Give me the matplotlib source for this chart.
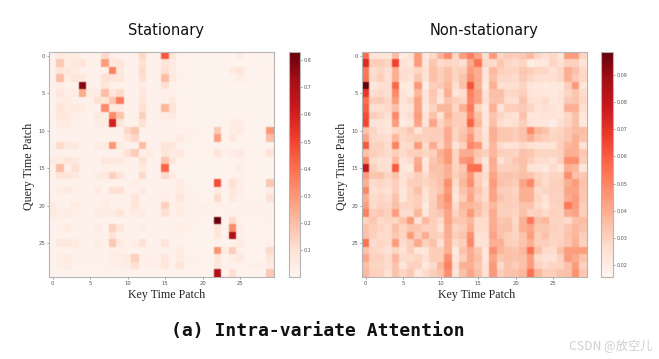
import matplotlib
matplotlib.use("Agg")
import matplotlib.pyplot as plt
import numpy as np

W, H = 659, 359

titles = ["Stationary", "Non-stationary"]
x_label = "Key Time Patch"
y_label = "Query Time Patch"
caption = "(a) Intra-variate Attention"
watermark = "CSDN @放空儿"
heat_ticks = [0, 5, 10, 15, 20, 25]
stationary_ticks = [0.1, 0.2, 0.3, 0.4, 0.5, 0.6, 0.7, 0.8]
nonstationary_ticks = [0.02, 0.03, 0.04, 0.05, 0.06, 0.07, 0.08, 0.09]

# values in hundredths
stationary_pct = [
[2,6,5,5,2,2,2,12,4,2,2,2,13,2,2,45,8,1,1,1,1,1,1,1,1,4,1,1,1,1],
[2,17,4,6,8,2,3,28,6,8,2,2,10,2,2,8,5,1,1,1,1,1,1,1,1,1,1,1,1,1],
[2,8,7,5,2,2,2,2,35,6,2,2,12,2,2,10,5,2,2,1,1,1,1,1,5,8,1,1,1,2],
[2,20,4,8,6,2,2,10,8,7,2,2,10,2,2,20,6,2,1,1,1,1,1,1,1,4,1,1,1,1],
[2,4,2,2,78,3,2,8,3,2,2,2,4,2,2,10,2,1,1,1,1,1,1,1,1,1,1,1,1,1],
[2,7,4,5,25,5,5,20,7,12,2,2,7,2,2,3,2,1,1,1,1,1,1,1,1,1,1,1,1,1],
[2,5,5,2,2,2,10,8,18,37,2,2,8,2,2,3,6,1,1,1,1,1,1,1,1,1,1,1,1,1],
[2,8,5,6,5,2,2,33,6,6,2,2,10,2,2,22,8,1,1,1,1,1,1,1,1,1,1,1,1,1],
[2,7,6,4,2,2,6,4,33,18,2,2,15,2,2,4,6,1,1,1,1,1,1,1,1,1,1,1,1,1],
[2,5,5,2,2,2,4,5,60,8,2,2,10,2,2,2,2,1,1,1,1,1,1,1,4,4,1,1,1,1],
[1,2,2,2,2,2,2,2,2,2,13,18,2,2,2,2,2,2,3,2,1,1,17,1,4,5,1,1,1,30],
[1,2,2,2,2,2,2,2,2,2,8,13,2,2,2,2,2,5,3,2,1,1,28,1,7,2,1,1,1,20],
[2,12,6,6,2,2,5,5,30,5,2,2,20,2,2,8,7,2,1,1,1,1,1,1,1,1,1,1,1,1],
[2,2,2,2,2,2,2,2,2,2,10,16,3,5,2,8,5,6,2,2,2,2,8,2,4,6,2,2,2,8],
[5,5,8,6,3,2,2,7,6,6,3,2,10,2,2,18,8,2,1,1,1,1,1,1,2,2,1,1,1,1],
[2,20,3,10,3,2,2,3,3,2,2,2,6,2,2,42,2,1,1,1,1,1,1,1,2,4,1,1,1,1],
[2,8,8,6,2,2,5,6,15,8,2,2,12,2,2,12,5,1,1,1,1,1,1,1,2,2,1,1,1,1],
[2,2,2,2,2,2,2,2,2,2,2,4,2,2,2,2,2,5,2,1,1,1,48,2,10,4,1,1,1,17],
[2,4,6,3,2,2,5,2,10,10,2,2,6,2,2,3,2,5,2,1,1,1,5,2,7,4,1,1,1,4],
[2,2,2,2,2,2,2,3,2,2,3,8,2,2,2,4,2,7,3,3,1,1,12,1,6,3,1,1,1,10],
[6,2,2,5,2,2,2,5,2,2,3,8,2,2,2,15,3,4,2,2,3,2,3,2,2,2,2,3,2,2],
[6,4,5,4,2,2,4,5,4,8,3,5,5,2,2,10,3,5,2,2,2,3,1,2,2,2,2,3,3,2],
[2,2,2,2,2,2,2,2,2,2,2,2,2,2,2,2,2,2,2,2,1,1,83,1,12,2,1,1,1,2],
[2,2,5,2,2,2,5,2,15,7,2,2,4,2,2,2,2,4,3,1,1,1,8,1,33,4,1,1,1,2],
[2,2,2,2,2,2,2,2,8,2,2,2,2,2,2,2,2,2,2,1,1,1,8,1,70,3,1,1,1,2],
[2,6,6,5,2,2,4,3,17,6,2,4,10,2,2,8,2,2,1,1,1,1,2,1,2,5,1,1,1,2],
[2,2,2,2,2,2,2,2,3,3,2,2,2,2,2,2,2,5,1,1,1,1,30,5,16,3,2,2,2,12],
[2,4,5,3,3,2,2,2,4,4,6,15,3,3,2,7,2,5,2,3,1,1,7,2,4,6,1,1,1,8],
[2,3,5,2,2,2,2,2,3,4,4,10,3,4,3,7,2,8,2,2,1,1,7,2,2,2,2,3,3,5],
[1,1,1,1,1,1,1,1,1,1,1,1,1,1,1,1,1,1,1,1,1,1,70,1,10,1,1,1,1,17],
]

# values in thousandths
nonstationary_milli = [
[56,23,23,23,36,20,24,44,22,28,38,48,28,44,52,42,26,45,28,32,31,33,37,28,26,28,23,44,44,29],
[72,31,31,29,66,25,22,44,23,33,27,29,28,26,41,54,27,27,33,28,27,29,20,22,22,29,26,30,30,24],
[53,26,29,26,39,26,26,29,25,35,31,35,29,31,44,40,24,37,31,29,29,33,31,29,28,25,28,39,35,28],
[54,27,31,26,39,26,24,33,25,35,31,35,29,34,47,40,23,35,28,28,27,32,28,26,26,26,28,39,32,28],
[98,22,26,26,57,21,21,45,19,31,32,37,26,35,62,39,21,39,26,26,26,29,23,22,21,22,22,31,45,23],
[69,26,28,26,49,24,21,37,24,33,25,39,23,26,51,42,24,35,35,28,29,31,24,23,22,22,24,29,33,27],
[56,31,32,28,44,24,28,42,24,32,23,34,31,29,49,42,26,34,34,26,26,34,26,25,27,22,24,32,34,28],
[59,26,26,28,35,22,24,42,21,29,37,37,28,39,53,29,22,39,24,31,31,32,29,24,26,24,23,39,39,26],
[63,31,29,25,49,23,27,44,24,34,25,39,31,31,49,35,23,34,29,26,24,34,23,23,24,24,24,28,35,23],
[65,24,24,23,44,20,23,42,24,42,29,35,31,31,58,37,22,35,26,24,26,31,24,23,23,19,26,29,35,22],
[34,29,25,23,28,29,33,25,31,31,31,40,29,33,40,31,23,39,33,33,31,34,49,37,34,28,29,33,36,36],
[42,28,27,26,37,28,30,31,30,31,30,40,29,35,45,31,25,39,33,33,31,34,39,33,31,29,30,33,39,34],
[61,29,30,27,51,27,27,44,27,40,29,39,25,30,49,45,24,37,27,24,25,28,25,24,24,24,31,37,39,25],
[35,31,29,27,31,27,31,31,29,31,39,45,29,40,40,33,30,37,31,30,29,34,33,29,29,29,30,39,39,33],
[48,27,25,25,37,24,27,40,22,33,37,45,29,45,47,31,23,40,25,29,33,35,31,27,27,25,30,47,47,31],
[80,30,26,26,60,23,21,42,23,35,34,39,29,33,55,56,25,39,30,30,31,34,25,24,22,27,23,39,37,23],
[44,33,34,29,34,25,27,31,27,33,34,39,30,35,45,31,27,42,33,34,33,35,34,29,27,29,29,47,34,33],
[39,27,29,27,31,25,31,31,29,31,35,47,27,37,47,31,25,44,34,33,31,42,49,31,27,30,31,39,44,34],
[49,25,27,25,31,23,29,35,25,30,33,44,25,34,40,34,27,42,31,31,29,39,39,27,29,30,30,42,42,33],
[39,27,29,27,34,23,29,31,25,30,39,47,23,31,42,31,27,42,34,31,30,39,39,29,25,30,30,40,44,33],
[44,27,30,29,35,29,29,31,21,31,39,45,27,37,37,35,30,37,31,31,30,34,34,27,23,29,30,53,44,31],
[51,31,33,30,44,27,27,37,23,31,33,42,29,35,45,34,29,40,30,30,29,35,29,30,27,30,29,40,42,31],
[29,33,27,29,29,34,45,25,37,31,27,42,33,33,37,27,27,39,33,34,27,39,53,35,37,29,29,27,35,36],
[34,31,29,27,35,29,34,33,30,31,25,40,29,31,39,27,27,40,34,35,29,39,42,33,33,30,29,33,37,34],
[35,30,27,27,33,29,44,31,40,31,30,40,31,34,47,25,25,42,34,31,29,34,44,31,35,29,29,34,37,31],
[55,27,29,27,44,27,31,40,30,34,25,39,27,31,49,25,25,39,39,31,30,34,39,31,31,29,30,33,39,30],
[34,29,27,25,29,25,31,23,23,31,31,39,21,34,40,33,23,47,37,35,33,37,55,35,27,27,35,44,44,44],
[42,30,30,27,37,27,27,29,25,31,31,47,23,31,40,35,23,42,33,35,34,35,44,27,25,25,30,44,40,34],
[35,29,29,27,34,23,30,30,21,27,37,51,25,39,39,33,25,45,27,34,31,35,44,30,27,29,29,35,44,30],
[37,30,30,25,34,29,33,23,27,31,34,47,23,35,42,35,25,45,31,34,34,37,55,37,31,31,34,35,47,33],
]

EDGE = "#b5b5b5"
TICK = "#555555"


def soften(img, dpi):
    """Small pixel blur, like the soft downsampled cells of the reference."""
    kernel = np.array([0.2, 0.6, 0.2])
    out = img.astype(float)
    for axis in (0, 1):
        out = (kernel[0] * np.roll(out, 1, axis) + kernel[1] * out
               + kernel[2] * np.roll(out, -1, axis))
    out[[0, -1], :] = img[[0, -1], :]
    out[:, [0, -1]] = img[:, [0, -1]]
    return out, 0, 0


def box(l, t, r, b):
    return [l / W, 1 - b / H, (r - l) / W, (b - t) / H]


fig = plt.figure(figsize=(W / 100, H / 100), dpi=100, facecolor="white")


def panel(data, ticks, fmt, vmin, vmax, hbox, cbox, title, title_x, xlabel_x, ylabel_x):
    ax = fig.add_axes(box(*hbox))
    im = ax.imshow(data, cmap="Reds", vmin=vmin, vmax=vmax, aspect="auto", interpolation="nearest")
    im.set_agg_filter(soften)
    ax.set_xticks(heat_ticks)
    ax.set_yticks(heat_ticks)
    ax.tick_params(labelsize=3.8, length=1.2, width=0.4, color=TICK, labelcolor=TICK, pad=1.5)
    for s in ax.spines.values():
        s.set_color(EDGE)
        s.set_linewidth(0.8)
    cax = fig.add_axes(box(*cbox))
    cb = fig.colorbar(im, cax=cax)
    cb.set_ticks(ticks)
    cb.set_ticklabels([fmt % t for t in ticks])
    cb.ax.tick_params(labelsize=3.5, length=1.2, width=0.4, color=TICK, labelcolor=TICK, pad=1.5)
    cb.outline.set_edgecolor(EDGE)
    cb.outline.set_linewidth(0.8)
    fig.text(xlabel_x / W, 1 - 295 / H, x_label, ha="center", va="center",
             family="Liberation Serif", fontsize=8.6, color="#222222")
    fig.text(ylabel_x / W, 1 - 166 / H, y_label, ha="center", va="center", rotation=90,
             family="Liberation Serif", fontsize=8.6, color="#222222")
    fig.text(title_x / W, 1 - 31 / H, title, ha="center", va="center",
             family="DejaVu Sans", fontsize=10.5, color="#111111")


panel(np.array(stationary_pct) / 100, stationary_ticks, "%.1f", 0.0016, 0.83,
      (49, 52, 274, 277), (289, 52, 300, 277), titles[0], 166, 166.5, 29)
panel(np.array(nonstationary_milli) / 1000, nonstationary_ticks, "%.2f", 0.0157, 0.0983,
      (362, 52, 587, 277), (601, 52, 613, 277), titles[1], 484, 477, 342)

fig.text(317.5 / W, 1 - 331 / H, caption, ha="center", va="center",
         family="DejaVu Sans Mono", fontsize=13, fontweight="bold", color="#111111")
fig.text(652 / W, 1 - 346 / H, watermark, ha="right", va="center",
         family=["Noto Sans CJK SC", "DejaVu Sans"], fontsize=8.8, color="#cfcfcf")

fig.savefig("out.png", dpi=100)
